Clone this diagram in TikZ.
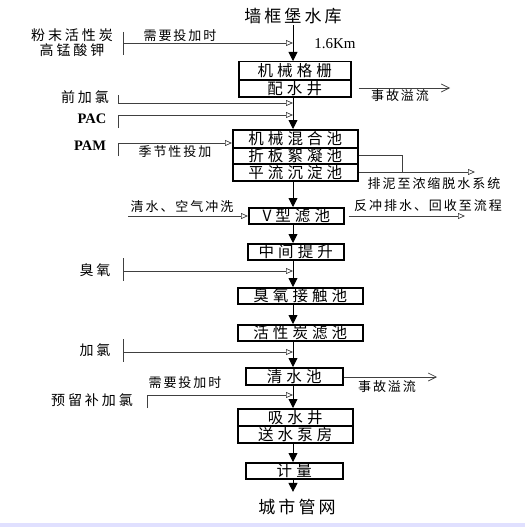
\documentclass[tikz,border=0pt]{standalone}
\usepackage{fontspec}
\setmainfont{Liberation Serif}
\newfontfamily\cjkBox{Noto Sans CJK SC}[LetterSpace=26]
\newfontfamily\cjkLbl{Noto Sans CJK SC}[LetterSpace=21]
\newfontfamily\cjkSm{Noto Sans CJK SC}[LetterSpace=15]
\newfontfamily\cjkBig{Noto Sans CJK SC}[LetterSpace=18]
\usetikzlibrary{arrows.meta}
\newcommand\fBox{\cjkBox\fontsize{15.5}{16}\selectfont}
\newcommand\fLbl{\cjkLbl\fontsize{14}{15}\selectfont}
\newcommand\fSm{\cjkSm\fontsize{13}{14}\selectfont}
\newcommand\fBig{\cjkBig\fontsize{17}{18}\selectfont}
\tikzset{
  procbox/.style={draw, line width=1.5pt, inner sep=0pt, anchor=north west, font=\fBox},
  txt/.style={inner sep=1pt, anchor=center},
  farr/.style={line width=0.9pt, -{Triangle[length=9pt,width=9pt]}},
  oarr/.style={line width=0.7pt, draw=black!75, -{Triangle[open,length=7pt,width=6pt]}},
  larr/.style={line width=0.7pt, draw=black!75, -{Straight Barb[length=8pt,width=8pt]}},
  plain/.style={line width=0.7pt, draw=black!75},
}
\begin{document}
\begin{tikzpicture}[x=1pt,y=-1pt]
\useasboundingbox (0,0) rectangle (525,527);
\fill[blue!12] (0,523) rectangle (525,527);

% process boxes
\node[procbox, minimum width=112pt, minimum height=18pt] (b1a) at (238,61) {机械格栅};
\node[procbox, minimum width=112pt, minimum height=17pt] (b1b) at (238,79) {配水井};
\node[procbox, minimum width=125pt, minimum height=18pt] (b2a) at (232,129) {机械混合池};
\node[procbox, minimum width=125pt, minimum height=16pt] (b2b) at (232,147) {折板絮凝池};
\node[procbox, minimum width=125pt, minimum height=17pt] (b2c) at (232,163) {平流沉淀池};
\node[procbox, minimum width=95pt, minimum height=16pt] (b3) at (248,207) {V型滤池};
\node[procbox, minimum width=96pt, minimum height=16pt] (b4) at (247,243) {中间提升};
\node[procbox, minimum width=125pt, minimum height=16pt] (b5) at (237,287) {臭氧接触池};
\node[procbox, minimum width=125pt, minimum height=16pt] (b6) at (237,324) {活性炭滤池};
\node[procbox, minimum width=97pt, minimum height=17pt] (b7) at (245,367) {清水池};
\node[procbox, minimum width=115pt, minimum height=17pt] (b8a) at (237,408) {吸水井};
\node[procbox, minimum width=115pt, minimum height=17pt] (b8b) at (237,425) {送水泵房};
\node[procbox, minimum width=97pt, minimum height=16pt] (b9) at (245,462) {计量};

% texts
\node[txt, font=\fBig] (src) at (293,16) {墙框堡水库};
\node[txt, font=\fBig] (dst) at (297,507) {城市管网};
\node[txt, font=\fLbl] (lpa) at (72,35) {粉末活性炭};
\node[txt, font=\fLbl] (lpb) at (72,50) {高锰酸钾};
\node[txt, font=\fSm] (n1) at (180,36) {需要投加时};
\node[txt, font=\fontsize{15}{16}\selectfont] (km) at (335,44) {1.6Km};
\node[txt, font=\fSm] (o1) at (400,96) {事故溢流};
\node[txt, font=\fLbl] (qjl) at (85,97) {前加氯};
\node[txt, font=\bfseries\fontsize{14.5}{15}\selectfont] (pac) at (92,119) {PAC};
\node[txt, font=\bfseries\fontsize{14.5}{15}\selectfont] (pam) at (90,146) {PAM};
\node[txt, font=\fSm] (jjx) at (175,152) {季节性投加};
\node[txt, font=\fSm] (pn) at (434,184) {排泥至浓缩脱水系统};
\node[txt, font=\fSm] (qs) at (182,207) {清水、空气冲洗};
\node[txt, font=\fSm] (fc) at (428,206) {反冲排水、回收至流程};
\node[txt, font=\fLbl] (cy) at (95,270) {臭氧};
\node[txt, font=\fLbl] (jl) at (95,350) {加氯};
\node[txt, font=\fSm] (o2) at (387,387) {事故溢流};
\node[txt, font=\fSm] (n2) at (185,383) {需要投加时};
\node[txt, font=\fLbl] (yl) at (92,400) {预留补加氯};

% main flow
\draw[farr] (src.south) -- (src.south |- b1a.north);
\draw[farr] (b1b.south -| src) -- (src |- b2a.north);
\draw[farr] (b2c.south -| src) -- (src |- b3.north);
\draw[farr] (b3.south -| src) -- (src |- b4.north);
\draw[farr] (b4.south -| src) -- (src |- b5.north);
\draw[farr] (b5.south -| src) -- (src |- b6.north);
\draw[farr] (b6.south -| src) -- (src |- b7.north);
\draw[farr] (b7.south -| src) -- (src |- b8a.north);
\draw[farr] (b8b.south -| src) -- (src |- b9.north);
\draw[farr] (b9.south -| src) -- ([yshift=6pt]src |- dst.north);

% side inputs
\coordinate (ta1) at (123,32); \coordinate (ta2) at (123,55); \coordinate (ja) at (123,43);
\draw[plain] (ta1) -- (ta2);
\draw[oarr] (ja) -- (ja -| src);
\coordinate (tb) at (118,95); \coordinate (jb) at (118,103);
\draw[oarr] (tb) -- (jb) -- (jb -| src);
\coordinate (tc) at (118,128); \coordinate (jc) at (118,115);
\draw[oarr] (tc) -- (jc) -- (jc -| src);
\coordinate (td) at (118,156); \coordinate (jd) at (118,143);
\draw[oarr] (td) -- (jd) -- (jd -| b2a.west);
\coordinate (je) at (128,216);
\draw[oarr] (je) -- (je -| b3.west);
\coordinate (tg1) at (123,258); \coordinate (tg2) at (123,281); \coordinate (jg) at (123,271);
\draw[plain] (tg1) -- (tg2);
\draw[oarr] (jg) -- (jg -| src);
\coordinate (th1) at (123,339); \coordinate (th2) at (123,362); \coordinate (jh) at (123,352);
\draw[plain] (th1) -- (th2);
\draw[oarr] (jh) -- (jh -| src);
\coordinate (ti) at (147,408); \coordinate (ji) at (147,395);
\draw[oarr] (ti) -- (ji) -- (ji -| src);

% outputs
\coordinate (jf) at (465,216);
\draw[oarr, shorten <=4pt] (b3.east |- jf) -- (jf);
\coordinate (ea) at (450,88);
\draw[larr, shorten <=7pt] (b1b.east |- ea) -- (ea);
\coordinate (pa) at (402,155); \coordinate (pb) at (475,172);
\draw[plain] (b2b.east |- pa) -- (pa) -- (pa |- pb);
\draw[oarr] (b2c.east |- pb) -- (pb);
\coordinate (eb) at (437,377);
\draw[larr] (b7.east |- eb) -- (eb);
\end{tikzpicture}
\end{document}
